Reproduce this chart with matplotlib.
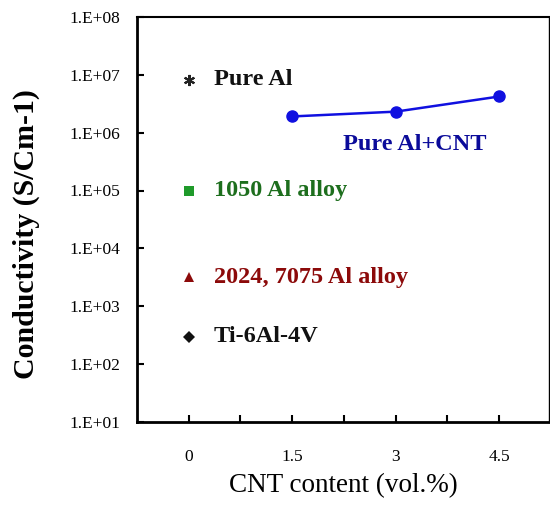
import math
import matplotlib
matplotlib.use("Agg")
import matplotlib.pyplot as plt
from matplotlib.ticker import FixedLocator, FuncFormatter, NullFormatter

plt.rcParams['font.family'] = ['Liberation Serif', 'DejaVu Serif']

# reference materials plotted at x = 0
ref_names = ["Pure Al", "1050 Al alloy", "2024, 7075 Al alloy", "Ti-6Al-4V"]
ref_values = [8.1e6, 1.0e5, 3.2e3, 3.0e2]

# Al + CNT composite
cnt_content = [1.5, 3.0, 4.5]
cnt_values = [1.9e6, 2.3e6, 4.2e6]

fig = plt.figure(figsize=(5.5, 5.08), dpi=100)
ax = fig.add_axes([0.249, 0.169, 0.749, 0.798])

ref_styles = [
    dict(marker=(6, 2, 0), color="#222222", ms=8, mew=1.5, text="#111111"),
    dict(marker="s", color="#1f9a2a", ms=6.5, mew=0, text="#1d6e1d"),
    dict(marker="^", color="#8c0a0a", ms=7.5, mew=0, text="#8c0a0a"),
    dict(marker="D", color="#111111", ms=6, mew=0, text="#111111"),
]
for name, val, st in zip(ref_names, ref_values, ref_styles):
    ax.plot([0], [val], linestyle="none", marker=st["marker"], color=st["color"],
            markersize=st["ms"], markeredgewidth=st["mew"])
    ax.annotate(name, (0, val), xytext=(18, 0), textcoords="offset points",
                va="center", ha="left", fontsize=17.5, fontweight="bold",
                color=st["text"])

ax.plot(cnt_content, cnt_values, color="#1010e0", linewidth=1.8,
        marker="o", markersize=8)
ax.annotate("Pure Al+CNT", (3.0, cnt_values[1]), xytext=(-38, -24),
            textcoords="offset points", va="center", ha="left", fontsize=17.5,
            fontweight="bold", color="#0b0b9a")

ax.set_yscale("log")
ax.set_ylim(1e1, 1e8)
ax.set_xlim(-0.75, 5.22)

ax.yaxis.set_major_locator(FixedLocator([10.0 ** e for e in range(1, 9)]))
ax.yaxis.set_minor_locator(FixedLocator([]))
ax.yaxis.set_major_formatter(FuncFormatter(lambda v, p: "1.E+%02d" % round(math.log10(v))))

ax.xaxis.set_major_locator(FixedLocator([0, 1.5, 3, 4.5]))
ax.xaxis.set_minor_locator(FixedLocator([0.75, 2.25, 3.75]))
ax.xaxis.set_major_formatter(FuncFormatter(lambda v, p: "%g" % v))
ax.xaxis.set_minor_formatter(NullFormatter())

ax.tick_params(axis="both", which="both", direction="in", length=5, width=1.5,
               labelsize=12.5)
ax.tick_params(axis="x", pad=19)
ax.tick_params(axis="y", pad=12)

ax.spines["left"].set_linewidth(2)
ax.spines["bottom"].set_linewidth(2)
ax.spines["top"].set_linewidth(1.5)
ax.spines["right"].set_linewidth(1)

ax.set_xlabel("CNT content (vol.%)", fontsize=19.5, labelpad=6)
ax.set_ylabel("Conductivity (S/Cm-1)", fontsize=21.5, fontweight="bold")
ax.yaxis.set_label_coords(-0.235, 0.464)

fig.savefig("out.png", dpi=100)
